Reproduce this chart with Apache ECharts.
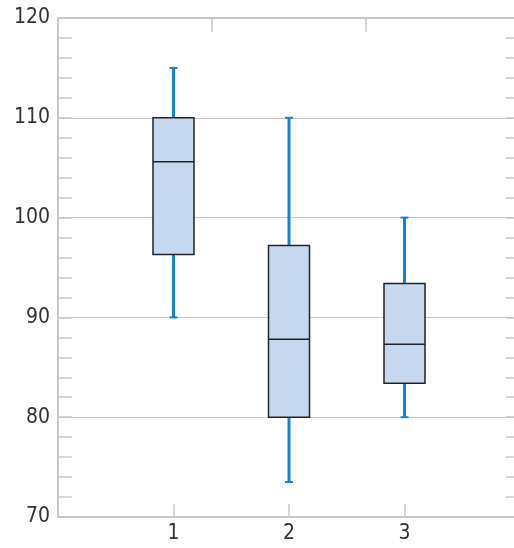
<!DOCTYPE html>
<html>
<head>
<meta charset="utf-8">
<script src="https://cdn.jsdelivr.net/npm/echarts@6/dist/echarts.min.js"></script>
<style>
html, body { margin: 0; padding: 0; background: #fff; }
#chart { width: 514px; height: 548px; }
</style>
</head>
<body>
<div id="chart"></div>
<script>
// box data
var groups = [1, 2, 3];
var lows = [90, 73.5, 80];
var q1s = [96.3, 80, 83.4];
var medians = [105.6, 87.8, 87.3];
var q3s = [110, 97.2, 93.4];
var highs = [115, 110, 100];

var axisGray = '#c8c8c8';
var labelFont = 'DejaVu Sans Condensed';
var boxData = [];
for (var i = 0; i < groups.length; i++) {
    boxData.push([groups[i], lows[i], q1s[i], medians[i], q3s[i], highs[i]]);
}

function renderBox(params, api) {
    var x = api.value(0);
    var pLow = api.coord([x, api.value(1)]);
    var pQ1 = api.coord([x, api.value(2)]);
    var pMed = api.coord([x, api.value(3)]);
    var pQ3 = api.coord([x, api.value(4)]);
    var pHigh = api.coord([x, api.value(5)]);
    var w = api.size([1, 0])[0] * 0.355;
    var cx = pMed[0];
    var whisker = { stroke: '#1a82c8', lineWidth: 3 };
    var cap = { stroke: '#1a82c8', lineWidth: 2 };
    return {
        type: 'group',
        children: [
            { type: 'line', shape: { x1: cx, y1: pQ3[1], x2: cx, y2: pHigh[1] }, style: whisker },
            { type: 'line', shape: { x1: cx, y1: pQ1[1], x2: cx, y2: pLow[1] }, style: whisker },
            { type: 'line', shape: { x1: cx - 4, y1: pHigh[1], x2: cx + 4, y2: pHigh[1] }, style: cap },
            { type: 'line', shape: { x1: cx - 4, y1: pLow[1], x2: cx + 4, y2: pLow[1] }, style: cap },
            { type: 'rect', shape: { x: cx - w / 2, y: pQ3[1], width: w, height: pQ1[1] - pQ3[1] },
              style: { fill: '#c6d8ef', stroke: '#222', lineWidth: 1.5 } },
            { type: 'line', shape: { x1: cx - w / 2, y1: pMed[1], x2: cx + w / 2, y2: pMed[1] },
              style: { stroke: '#222', lineWidth: 1.5 } }
        ]
    };
}

// y axis that draws the small inward ticks every 2 units, with no line or labels
function tickAxis(pos) {
    return {
        type: 'value',
        position: pos,
        min: 70,
        max: 120,
        interval: 2,
        axisLine: { show: false, onZero: false },
        axisTick: { show: true, inside: true, length: 14, lineStyle: { color: axisGray, width: 1.5 } },
        axisLabel: { show: false },
        splitLine: { show: false }
    };
}

var chart = echarts.init(document.getElementById('chart'));
var option = {
    animation: false,
    grid: { left: 58, top: 18, width: 462, height: 499, containLabel: false, outerBoundsMode: 'none' },
    xAxis: [{
        type: 'value',
        position: 'bottom',
        min: 0,
        max: 4,
        interval: 1,
        axisLine: { show: true, onZero: false, lineStyle: { color: axisGray, width: 2 } },
        axisTick: { show: true, inside: true, length: 13, lineStyle: { color: axisGray, width: 1.5 } },
        axisLabel: {
            margin: 6,
            color: '#333',
            fontFamily: labelFont,
            fontSize: 21,
            formatter: function (v) { return (v >= 1 && v <= 3) ? String(v) : ''; }
        },
        splitLine: { show: false }
    }, {
        type: 'value',
        position: 'top',
        min: 0,
        max: 3,
        interval: 1,
        axisLine: { show: true, onZero: false, lineStyle: { color: axisGray, width: 2 } },
        axisTick: { show: true, inside: true, length: 14, lineStyle: { color: axisGray, width: 1.5 } },
        axisLabel: { show: false },
        splitLine: { show: false }
    }],
    yAxis: [{
        type: 'value',
        position: 'left',
        min: 70,
        max: 120,
        interval: 10,
        axisLine: { show: true, onZero: false, lineStyle: { color: axisGray, width: 2 } },
        axisTick: { show: false },
        axisLabel: { margin: 8, color: '#333', fontFamily: labelFont, fontSize: 21 },
        splitLine: { show: true, lineStyle: { color: axisGray, width: 1 } }
    }, tickAxis('left'), tickAxis('right')],
    series: [{
        type: 'custom',
        xAxisIndex: 0,
        yAxisIndex: 0,
        renderItem: renderBox,
        encode: { x: 0, y: [1, 2, 3, 4, 5] },
        data: boxData
    }]
};
chart.setOption(option);
</script>
</body>
</html>
